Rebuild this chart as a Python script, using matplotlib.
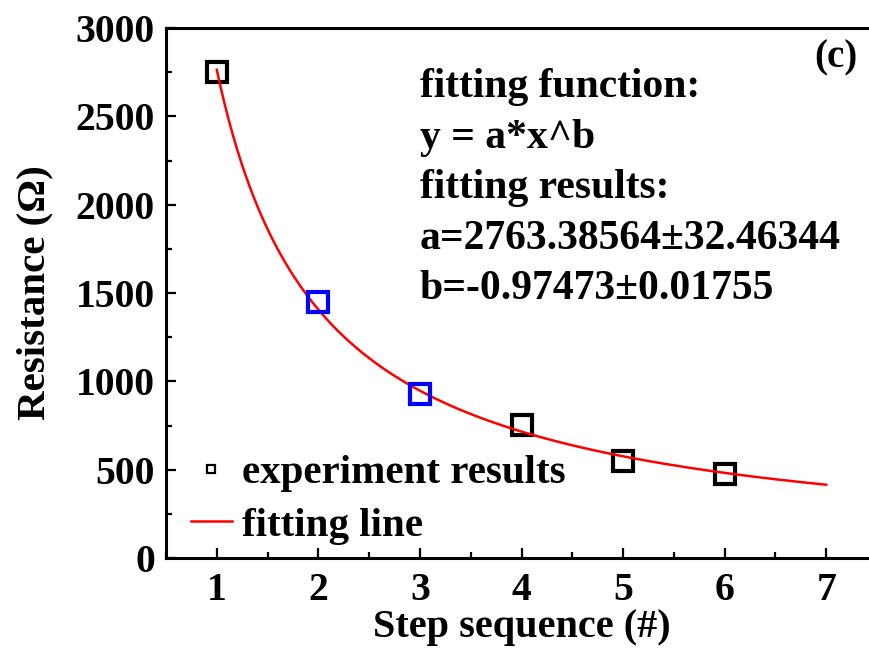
import numpy as np
import matplotlib
matplotlib.use("Agg")
import matplotlib.pyplot as plt
from matplotlib.lines import Line2D
from matplotlib.ticker import MultipleLocator

plt.rcParams['font.family'] = ['Liberation Serif', 'DejaVu Serif']
plt.rcParams['font.weight'] = 'bold'
plt.rcParams['axes.labelweight'] = 'bold'

steps = [1, 2, 3, 4, 5, 6]
resistance = [2753, 1451, 928, 753, 551, 475]
highlighted = [False, True, True, False, False, False]

# power-law fit parameters printed on the chart
fit_a = 2763.38564
fit_b = -0.97473
fit_range = (1, 7)

note_lines = [
    'fitting function:',
    'y = a*x^b',
    'fitting results:',
    'a=2763.38564\u00b132.46344',
    'b=-0.97473\u00b10.01755',
]

fig = plt.figure(figsize=(8.69, 6.5), dpi=100)
ax = fig.add_axes([166 / 869, 92 / 650, 711 / 869, 530 / 650])

black_x = [s for s, h in zip(steps, highlighted) if not h]
black_y = [r for r, h in zip(resistance, highlighted) if not h]
blue_x = [s for s, h in zip(steps, highlighted) if h]
blue_y = [r for r, h in zip(resistance, highlighted) if h]

marker_kw = dict(marker='s', ms=14, mew=3.0, mfc='none', ls='none')
ax.plot(black_x, black_y, mec='black', zorder=2, **marker_kw)

x_fit = np.linspace(fit_range[0], fit_range[1], 300)
ax.plot(x_fit, fit_a * x_fit ** fit_b, color='#ff0000', lw=1.8, zorder=3)

ax.plot(blue_x, blue_y, mec='#0000ff', zorder=4, **marker_kw)

ax.set_xlim(0.5, 7.5)
ax.set_ylim(0, 3000)
ax.xaxis.set_major_locator(MultipleLocator(1))
ax.xaxis.set_minor_locator(MultipleLocator(0.5))
ax.yaxis.set_major_locator(MultipleLocator(500))
ax.yaxis.set_minor_locator(MultipleLocator(250))

ax.tick_params(which='both', direction='in', top=False, right=False,
               width=1.6, labelsize=28.5)
ax.tick_params(which='major', length=7, pad=8)
ax.tick_params(axis='x', which='major', pad=10)
ax.tick_params(which='minor', length=4)
for sp in ax.spines.values():
    sp.set_linewidth(2.2)

ax.set_xlabel('Step sequence (#)', fontsize=29, labelpad=0)
ax.set_ylabel('Resistance (\u03a9)', fontsize=29.5, labelpad=16)

# one text per line so the spacing follows the original baselines
baselines = [0.870, 0.774, 0.679, 0.583, 0.489]
for line, yb in zip(note_lines, baselines):
    ax.text(0.357, yb, line, transform=ax.transAxes, ha='left',
            va='baseline', fontsize=30)
ax.text(0.973, 0.926, '(c)', transform=ax.transAxes, ha='right',
        va='baseline', fontsize=28)

handles = [
    Line2D([], [], marker='s', ms=6, mew=1.6, mfc='none', mec='black', ls='none'),
    Line2D([], [], color='#ff0000', lw=1.8),
]
ax.legend(handles, ['experiment results', 'fitting line'], loc='lower left',
          bbox_to_anchor=(0.035, 0.025), frameon=False, fontsize=29.5,
          handlelength=1.0, handletextpad=0.25, labelspacing=0.37,
          borderpad=0, borderaxespad=0)

fig.savefig('out.png', dpi=100, facecolor='white')
